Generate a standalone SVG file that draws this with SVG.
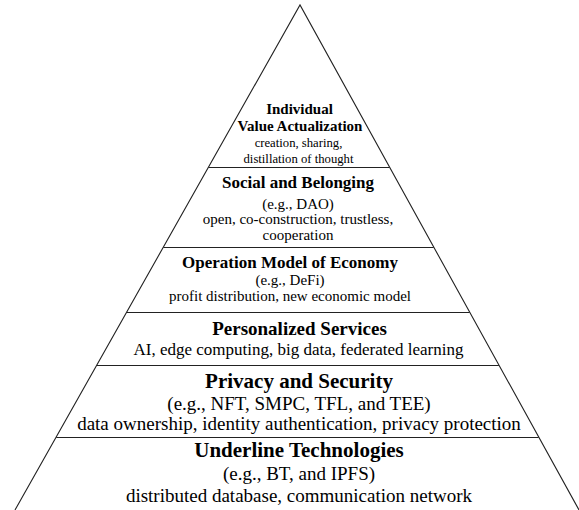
<svg xmlns="http://www.w3.org/2000/svg" width="579" height="510" viewBox="0 0 579 510">
<style>
.edge{fill:none;stroke:#222;stroke-width:1.1}
text{font-family:"Liberation Serif","Times New Roman",serif;fill:#000;text-anchor:middle}
.t1{font-weight:bold;font-size:15px}
.s1{font-size:12.7px}
.t2{font-weight:bold;font-size:17px}
.s2{font-size:15px}
.t3{font-weight:bold;font-size:19px}
.s3{font-size:17px}
.t4{font-weight:bold;font-size:21px}
.s4{font-size:19px}
</style>
<rect width="579" height="510" fill="#fff"/>
<g id="pyramid">
<path class="edge" d="M15,510 L300,5 L579,510"/>
</g>
<g id="dividers">
<line class="edge" x1="208.6" y1="167.5" x2="389.5" y2="167.5"/>
<line class="edge" x1="163.4" y1="247.5" x2="433.7" y2="247.5"/>
<line class="edge" x1="126.7" y1="312.5" x2="469.6" y2="312.5"/>
<line class="edge" x1="96.8" y1="365.5" x2="498.9" y2="365.5"/>
<line class="edge" x1="56.2" y1="437.5" x2="538.7" y2="437.5"/>
</g>
<g id="individual">
<text class="t1" x="299.5" y="113.5">Individual</text>
<text class="t1" x="300" y="131">Value Actualization</text>
<text class="s1" x="298.5" y="147">creation, sharing,</text>
<text class="s1" x="298.5" y="163">distillation of thought</text>
</g>
<g id="social">
<text class="t2" x="298" y="187.5">Social and Belonging</text>
<text class="s2" x="298" y="209">(e.g., DAO)</text>
<text class="s2" x="298" y="223.5">open, co-construction, trustless,</text>
<text class="s2" x="298" y="240">cooperation</text>
</g>
<g id="economy">
<text class="t2" x="290" y="267.5">Operation Model of Economy</text>
<text class="s2" x="290" y="285">(e.g., DeFi)</text>
<text class="s2" x="290" y="301">profit distribution, new economic model</text>
</g>
<g id="services">
<text class="t3" x="299.5" y="334.5">Personalized Services</text>
<text class="s3" x="298.5" y="354.5">AI, edge computing, big data, federated learning</text>
</g>
<g id="privacy">
<text class="t4" x="299" y="387.5">Privacy and Security</text>
<text class="s4" x="299" y="410">(e.g., NFT, SMPC, TFL, and TEE)</text>
<text class="s4" x="299" y="430">data ownership, identity authentication, privacy protection</text>
</g>
<g id="technologies">
<text class="t4" x="299" y="457">Underline Technologies</text>
<text class="s4" x="299" y="480">(e.g., BT, and IPFS)</text>
<text class="s4" x="299" y="502">distributed database, communication network</text>
</g>
</svg>
